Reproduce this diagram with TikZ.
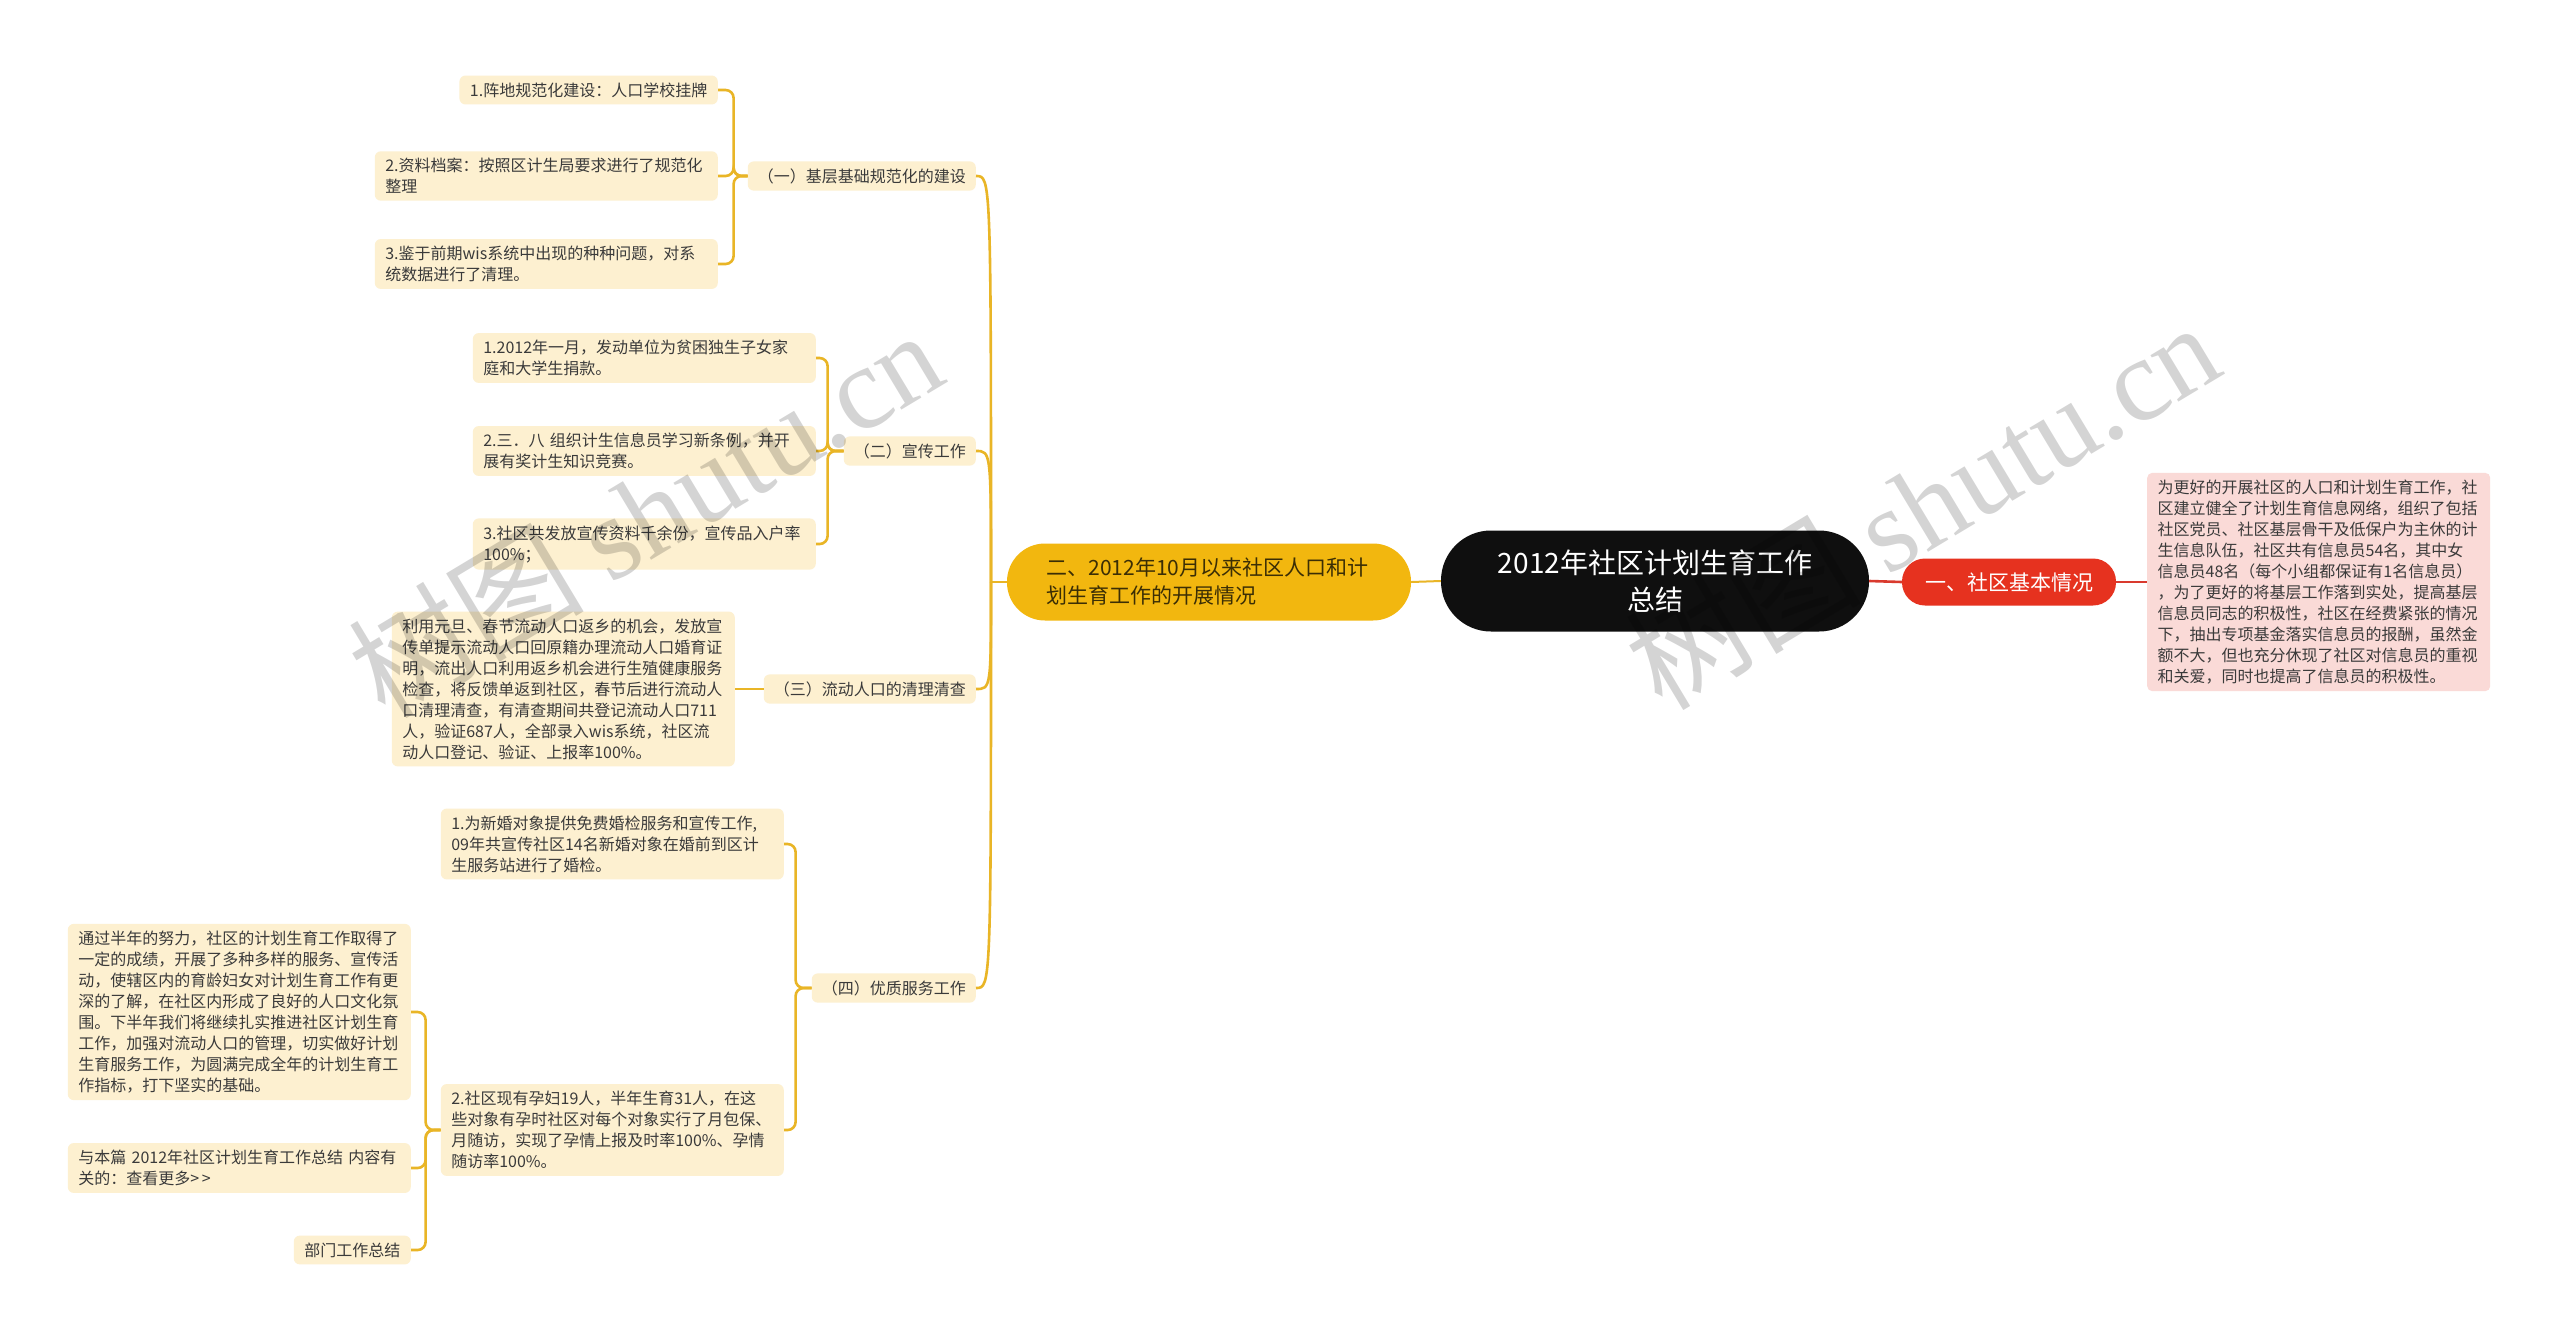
\documentclass[tikz,border=0pt]{standalone}
\usepackage{fontspec}
\setmainfont{Noto Sans CJK SC}
\newfontfamily\wmserif{Liberation Serif}
\usetikzlibrary{calc}
\definecolor{cream}{HTML}{FDF0D0}
\definecolor{gold}{HTML}{E9B526}
\definecolor{mainyel}{HTML}{F2B70F}
\definecolor{redn}{HTML}{E6321F}
\definecolor{redline}{HTML}{D93A2E}
\definecolor{pinkf}{HTML}{FADAD7}
\definecolor{txt}{HTML}{3A3A3A}
\definecolor{ytxt}{HTML}{3B2E05}
\tikzset{
  leaf/.style={fill=cream, rounded corners=6pt, align=left, text width=322pt, inner xsep=10.5pt, inner ysep=7pt, font=\fontsize{16}{21}\selectfont, text=txt, anchor=east},
  leafshort/.style={fill=cream, rounded corners=6pt, align=left, inner xsep=10.5pt, inner ysep=7pt, font=\fontsize{16}{21}\selectfont, text=txt, anchor=east},
  branch/.style={fill=cream, rounded corners=6pt, inner xsep=10pt, inner ysep=7pt, font=\fontsize{16}{21}\selectfont, text=txt, anchor=east},
  conn/.style={gold, line width=2.6pt},
  bracket/.style={conn, rounded corners=8pt},
  rconn/.style={redline, line width=2.6pt},
  wm/.style={rotate=31, text=black, opacity=0.17}
}
\begin{document}
\begin{tikzpicture}[x=1pt,y=-1pt]
\fill[white] (0,0) rectangle (2560,1339);
\useasboundingbox (0,0) rectangle (2560,1339);

% central and level-1 nodes
\node[fill=black!94, text=white, rounded corners=50pt, minimum width=428pt, minimum height=101pt, align=center, font=\fontsize{28}{37}\selectfont] (C) at (1655,581) {2012年社区计划生育工作\\总结};
\node[fill=mainyel, text=ytxt, rounded corners=38pt, minimum width=404pt, minimum height=77pt, text width=325pt, inner xsep=39.5pt, align=left, font=\fontsize{21}{28}\selectfont] (Y) at (1209,582) {二、2012年10月以来社区人口和计\\划生育工作的开展情况};
\node[fill=redn, text=white, rounded corners=23pt, minimum width=214pt, minimum height=47pt, font=\fontsize{21}{28}\selectfont] (R) at (2009,582) {一、社区基本情况};
\node[fill=pinkf, rounded corners=5pt, align=left, text width=322pt, inner xsep=10.5pt, inner ysep=7pt, font=\fontsize{16}{21}\selectfont, text=txt, anchor=west] (P) at (2147,582) {为更好的开展社区的人口和计划生育工作，社\\区建立健全了计划生育信息网络，组织了包括\\社区党员、社区基层骨干及低保户为主休的计\\生信息队伍，社区共有信息员54名，其中女\\信息员48名（每个小组都保证有1名信息员）\\，为了更好的将基层工作落到实处，提高基层\\信息员同志的积极性，社区在经费紧张的情况\\下，抽出专项基金落实信息员的报酬，虽然金\\额不大，但也充分休现了社区对信息员的重视\\和关爱，同时也提高了信息员的积极性。};

% branches
\node[branch] (B1) at (976,176) {（一）基层基础规范化的建设};
\node[branch] (B2) at (976,451) {（二）宣传工作};
\node[branch] (B3) at (976,689) {（三）流动人口的清理清查};
\node[branch] (B4) at (976,988) {（四）优质服务工作};

% leaves of B1
\node[leafshort] (L11) at (718,90) {1.阵地规范化建设：人口学校挂牌};
\node[leaf] (L12) at (718,176) {2.资料档案：按照区计生局要求进行了规范化\\整理};
\node[leaf] (L13) at (718,264) {3.鉴于前期wis系统中出现的种种问题，对系\\统数据进行了清理。};

% leaves of B2
\node[leaf] (L21) at (816,358) {1.2012年一月，发动单位为贫困独生子女家\\庭和大学生捐款。};
\node[leaf] (L22) at (816,451) {2.三．八 组织计生信息员学习新条例，并开\\展有奖计生知识竞赛。};
\node[leaf] (L23) at (816,544) {3.社区共发放宣传资料千余份，宣传品入户率\\100\%；};

% leaf of B3
\node[leaf] (L3) at (735,689) {利用元旦、春节流动人口返乡的机会，发放宣\\传单提示流动人口回原籍办理流动人口婚育证\\明，流出人口利用返乡机会进行生殖健康服务\\检查，将反馈单返到社区，春节后进行流动人\\口清理清查，有清查期间共登记流动人口711\\人，验证687人，全部录入wis系统，社区流\\动人口登记、验证、上报率100\%。};

% leaves of B4
\node[leaf] (L41) at (784,844) {1.为新婚对象提供免费婚检服务和宣传工作,\\09年共宣传社区14名新婚对象在婚前到区计\\生服务站进行了婚检。};
\node[leaf] (L42) at (784,1130) {2.社区现有孕妇19人，半年生育31人，在这\\些对象有孕时社区对每个对象实行了月包保、\\月随访，实现了孕情上报及时率100\%、孕情\\随访率100\%。};

% sub-leaves of L42
\node[leaf] (S1) at (411,1012) {通过半年的努力，社区的计划生育工作取得了\\一定的成绩，开展了多种多样的服务、宣传活\\动，使辖区内的育龄妇女对计划生育工作有更\\深的了解，在社区内形成了良好的人口文化氛\\围。下半年我们将继续扎实推进社区计划生育\\工作，加强对流动人口的管理，切实做好计划\\生育服务工作，为圆满完成全年的计划生育工\\作指标，打下坚实的基础。};
\node[leaf] (S2) at (411,1168) {与本篇 2012年社区计划生育工作总结 内容有\\关的：查看更多>\,>};
\node[leafshort] (S3) at (411,1250) {部门工作总结};

% connectors: centre
\draw[conn, line width=2pt] (Y.east) -- (C.west);
\draw[rconn] (C.east) -- (R.west);
\draw[rconn] (R.east) -- (P.west);

% spine
\coordinate (J) at (991,582);
\draw[conn] (Y.west) -- (J);
\foreach \b in {B1,B2,B3,B4}{
  \draw[conn] (J) .. controls (J |- \b.east) .. (\b.east);
}

% brackets
\foreach \l in {L11,L12,L13}{ \draw[bracket] (B1.west) -- ++(-14,0) |- (\l.east); }
\foreach \l in {L21,L22,L23}{ \draw[bracket] (B2.west) -- ++(-16,0) |- (\l.east); }
\draw[conn] (B3.west) -- (L3.east);
\foreach \l in {L41,L42}{ \draw[bracket] (B4.west) -- ++(-16,0) |- (\l.east); }
\foreach \l in {S1,S2,S3}{ \draw[bracket] (L42.west) -- ++(-15,0) |- (\l.east); }

% watermarks
\node[wm, font=\fontsize{118}{118}\selectfont] (W1) at (645,512) {树图 {\wmserif shutu.cn}};
\node[wm, font=\fontsize{118}{118}\selectfont] (W2) at (1922,504) {树图 {\wmserif shutu.cn}};
\end{tikzpicture}
\end{document}
